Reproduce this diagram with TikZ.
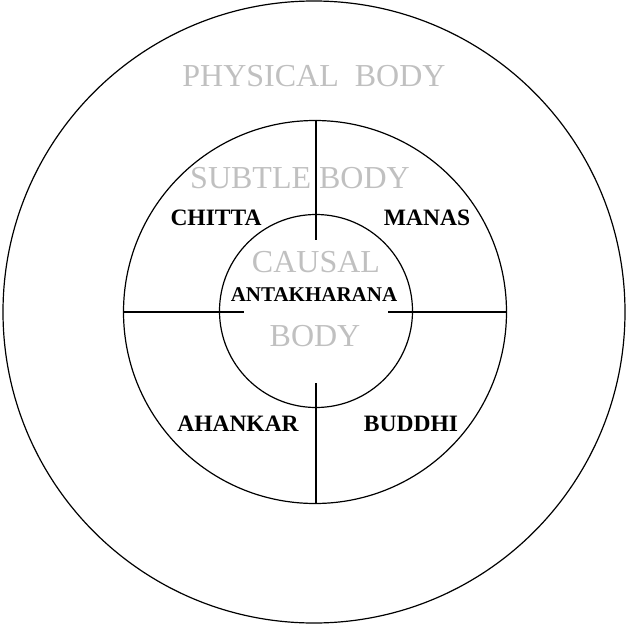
\documentclass[tikz,border=0pt]{standalone}
\usepackage{fontspec}
\setmainfont{Liberation Serif}
\usepackage{tikz}
\definecolor{bodygray}{RGB}{192,192,192}
\tikzstyle{ring} = [
    circle,
    draw=black,
    line width=1.2pt,
    inner sep=0pt
]
\tikzstyle{bodylabel} = [
    text=bodygray,
    font=\fontsize{32}{32}\selectfont,
    inner sep=0pt
]
\tikzstyle{partlabel} = [
    text=black,
    font=\fontsize{23.5}{23.5}\selectfont\bfseries,
    inner sep=0pt
]
\tikzstyle{divider} = [line width=1.2pt]

\begin{document}
\begin{tikzpicture}[x=1pt, y=-1pt]

\useasboundingbox (0,0) rectangle (627,624);

\node (outer) [ring, minimum size=622pt] at (314,312) {};
\node (middle) [ring, minimum size=383pt] at (315,312) {};
\node (inner) [ring, minimum size=193pt] at (316,311) {};

\node (physical) [bodylabel] at (314,76) {PHYSICAL\ \ BODY};
\node (subtle) [bodylabel] at (300,178) {SUBTLE BODY};
\node (causal) [bodylabel] at (316,262) {CAUSAL};
\node (causalbody) [bodylabel] at (315,336) {BODY};

\node (chitta) [partlabel] at (216,218) {CHITTA};
\node (manas) [partlabel] at (427,218) {MANAS};
\node (ahankar) [partlabel] at (238,424) {AHANKAR};
\node (buddhi) [partlabel] at (411,424) {BUDDHI};
\node (antakharana) [partlabel, font=\fontsize{21}{21}\selectfont\bfseries]
    at (314,295) {ANTAKHARANA};

\coordinate (topend) at (316,240);
\coordinate (leftend) at (244,312);
\coordinate (rightend) at (388,312);
\coordinate (bottomend) at (316,383);

\draw [divider] (middle.north -| topend) -- (topend);
\draw [divider] (middle.west) -- (leftend);
\draw [divider] (middle.east) -- (rightend);
\draw [divider] (middle.south -| bottomend) -- (bottomend);

\end{tikzpicture}
\end{document}
